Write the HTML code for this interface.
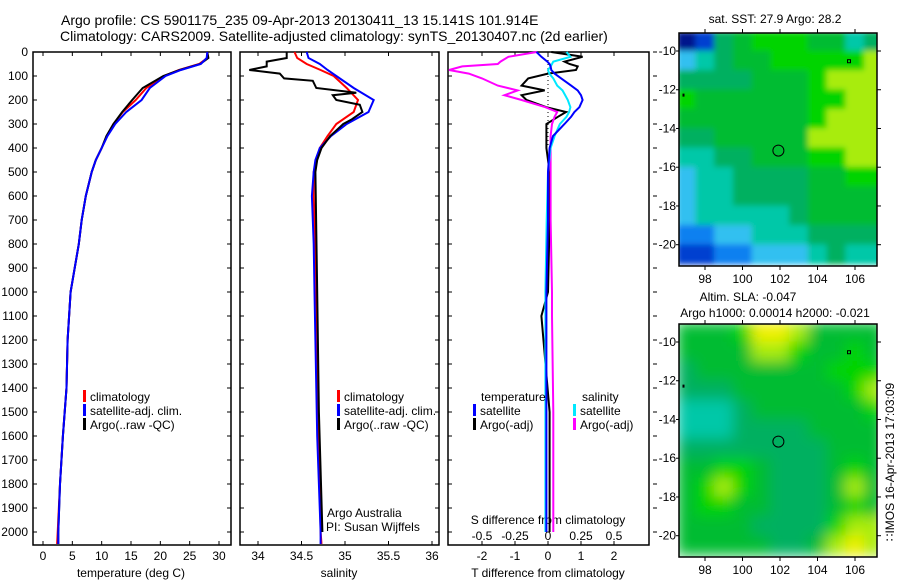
<!DOCTYPE html>
<html><head><meta charset="utf-8"><style>
html,body{margin:0;padding:0;background:#fff;}
svg{display:block;font-family:"Liberation Sans",Arial,sans-serif;}
text{fill:#000;}
</style></head><body>
<svg id="fig" width="900" height="580" viewBox="0 0 900 580" xmlns="http://www.w3.org/2000/svg">
<text x="61" y="25" font-size="14">Argo profile: CS 5901175_235 09-Apr-2013 20130411_13 15.141S 101.914E</text>
<text x="60" y="41" font-size="14">Climatology: CARS2009. Satellite-adjusted climatology: synTS_20130407.nc (2d earlier)</text>
<g id="layer"></g>
</svg>
<script>
// ---------- profile data ----------
const depths   = [0,25,50,75,100,150,200,250,300,350,400,450,500,600,700,800,1000,1200,1400,1600,1800,2000,2050];
const tempClim = [28.0,28.0,26.6,23.2,20.6,17.6,15.8,13.6,12.0,10.9,10.0,9.0,8.3,7.3,6.6,6.1,4.7,4.2,4.0,3.4,2.9,2.5,2.4];
const tempSat  = [28.0,27.9,26.9,23.5,20.9,18.2,16.8,14.2,12.3,11.0,10.0,9.0,8.3,7.3,6.6,6.1,4.7,4.2,4.0,3.4,2.9,2.6,2.6];
const tempArgo = [28.0,28.2,26.8,23.3,20.5,17.0,15.2,13.5,12.0,10.8,10.0,9.0,8.3,7.3,6.6,6.1,4.7,4.2,4.0,3.4,2.9,2.6,2.6];
const salClim  = [34.42,34.45,34.56,34.72,34.87,35.02,35.15,35.10,34.90,34.80,34.71,34.67,34.64,34.64,34.65,34.66,34.67,34.68,34.69,34.70,34.71,34.72,34.73];
const salSat   = [34.56,34.58,34.71,34.80,34.90,35.10,35.33,35.27,35.02,34.84,34.71,34.66,34.64,34.62,34.63,34.64,34.65,34.66,34.67,34.68,34.70,34.72,34.72];
const salDepths= [0,25,40,60,75,90,110,120,150,170,180,200,220,250,280,300,350,400,450,500,1000,1500,2000];
const salArgo  = [34.33,34.33,34.10,34.10,33.90,34.25,34.30,34.63,34.67,35.13,34.86,34.90,35.17,35.20,35.08,34.98,34.83,34.73,34.68,34.66,34.68,34.70,34.74];
const diffDepths = [0,20,40,50,60,75,90,110,140,160,180,200,230,250,270,300,350,400,500,700,1000,1100,1500,2000];
const tDiffSat  = [-0.35,-0.2,-0.02,0.05,0.08,0.1,0.2,0.4,0.7,0.9,1.0,1.05,0.95,0.8,0.7,0.5,0.15,0.05,0.0,0.0,-0.05,-0.05,-0.05,-0.05];
const tDiffArgo = [0.1,1.05,0.5,0.65,0.9,0.85,0.0,-0.6,-0.8,-0.1,-0.8,-0.65,-0.05,0.55,0.3,-0.05,-0.05,-0.05,0.05,0.05,0.0,-0.2,0.05,0.05];
const sDiffSat  = [0.14,0.17,0.04,0.03,0.02,0.0,0.01,0.04,0.07,0.11,0.13,0.15,0.17,0.16,0.14,0.09,0.05,0.02,0.0,-0.01,-0.02,-0.02,-0.02,-0.02];
const sDiffArgo = [-0.085,-0.3,-0.36,-0.38,-0.65,-0.75,-0.6,-0.5,-0.38,-0.23,-0.33,-0.2,-0.02,0.07,0.05,0.03,0.02,0.02,0.02,0.02,0.03,0.03,0.04,0.04];
const depthTicks = [0,100,200,300,400,500,600,700,800,900,1000,1100,1200,1300,1400,1500,1600,1700,1800,1900,2000];
const tempTicks = [0,5,10,15,20,25,30];
const salTicks = [34,34.5,35,35.5,36];
const tdTicks = [-2,-1,0,1,2];
const sdTicks = [-0.5,-0.25,0,0.25,0.5];
// ---------- map data (levels 0..10), rows lat -9.5..-20.5, cols lon 97..107 ----------
const mapLons = [97,98,99,100,101,102,103,104,105,106,107];
const mapLats = [-9.5,-10.5,-11.5,-12.5,-13.5,-14.5,-15.5,-16.5,-17.5,-18.5,-19.5,-20.5];
const sstGrid = [
[0,1,5,6,7,7,7,6,6,4,5],[3,4,5,6,6,7,7,7,7,7,8],[5,5,5,5,6,6,6,7,8,8,8],[7,6,6,6,6,6,6,7,7,8,8],
[6,6,6,6,6,6,6,7,8,8,8],[5,5,6,6,6,6,6,8,8,8,8],[4,4,5,5,6,6,6,7,7,8,8],[3,4,4,5,5,5,5,6,6,7,7],
[3,4,4,5,5,5,5,6,6,6,6],[3,4,4,4,4,4,5,6,6,6,6],[2,2,3,3,4,4,4,5,5,5,5],[1,1,2,2,3,3,3,4,5,4,4]];
const slaGrid = [
[6,6,6,7,9,9,8,6,6,6,6],[6,6,6,6,8,8,7,6,6,7,6],[5,6,6,6,6,6,6,6,7,7,7],[5,5,5,6,6,6,6,6,6,7,8],
[4,4,4,5,6,6,6,6,6,6,7],[4,4,4,5,5,5,5,6,6,6,6],[5,5,5,5,5,5,5,5,6,6,6],[6,6,7,7,6,5,5,5,6,7,6],
[6,7,8,7,6,5,5,5,6,8,6],[6,7,7,6,6,5,5,5,6,7,6],[6,6,6,6,5,5,5,5,7,8,8],[6,6,6,6,6,5,5,6,8,9,8]];
const mapLonTicks = [98,100,102,104,106];
const mapLatTicks = [-10,-12,-14,-16,-18,-20];
const argoPos = [101.914,-15.141];

const NS="http://www.w3.org/2000/svg";
const L=document.getElementById('layer');
function mk(tag,attrs,parent){const e=document.createElementNS(NS,tag);for(const k in attrs)e.setAttribute(k,attrs[k]);(parent||L).appendChild(e);return e;}
function txt(x,y,s,size,anchor,parent){const t=mk('text',{x:x,y:y,'font-size':size||12,'text-anchor':anchor||'start'},parent);t.textContent=s;return t;}

const Y0=52, YS=0.24;
const yD=d=>Y0+d*YS;
const BOT=545;
const panels=[
 {x0:33,x1:231,fx:v=>43+v*5.867,ticks:tempTicks,name:'temperature'},
 {x0:240,x1:439,fx:v=>258+(v-34)*87,ticks:salTicks,name:'salinity'},
 {x0:448,x1:649,fx:v=>548+v*33,ticks:tdTicks,name:'difference'}];
panels.forEach((p,i)=>{
 const b=mk('rect',{x:p.x0,y:Y0,width:p.x1-p.x0,height:BOT-Y0,fill:'none',stroke:'#000','stroke-width':1.5});
 
 
 depthTicks.forEach(d=>{const y=yD(d);
  mk('line',{x1:p.x0,x2:p.x0+4,y1:y,y2:y,stroke:'#000'});
  if(i<2) mk('line',{x1:p.x1,x2:p.x1-4,y1:y,y2:y,stroke:'#000'});
  else mk('line',{x1:p.x1+4,x2:p.x1+8,y1:y,y2:y,stroke:'#000'});
 });
 p.ticks.forEach(v=>{const x=p.fx(v);
  mk('line',{x1:x,x2:x,y1:BOT,y2:BOT-4,stroke:'#000'});
  mk('line',{x1:x,x2:x,y1:Y0,y2:Y0+4,stroke:'#000'});
  const t=txt(x,560,String(v),12,'middle');
  
  
 });
});
depthTicks.forEach(d=>{const t=txt(28,yD(d)+4,String(d),12,'end');
 
 });
[[131,'temperature (deg C)'],[339,'salinity'],[548,'T difference from climatology']].forEach(a=>{
 const t=txt(a[0],577,a[1],12,'middle');
 
 });
const sfx=v=>548+v*132;
sdTicks.forEach(v=>{const t=txt(sfx(v),540,String(v),12,'middle');
 
 });
const sdt=txt(548,524,'S difference from climatology',12,'middle');


const zl=mk('line',{x1:548,x2:548,y1:Y0,y2:yD(400),stroke:'#000','stroke-dasharray':'1,3'});



function line(ds,vals,fx,color,name){
 const pts=ds.map((d,k)=>fx(vals[k]).toFixed(1)+','+yD(d).toFixed(1)).join(' ');
 const e=mk('polyline',{points:pts,fill:'none',stroke:color,'stroke-width':2,'stroke-linejoin':'miter'});
 
 
}
const P=panels;
line(depths,tempClim,P[0].fx,'#ff0000','temp-climatology-line');
line(depths,tempArgo,P[0].fx,'#000000','temp-argo-line');
line(depths,tempSat,P[0].fx,'#0000ff','temp-satellite-line');
line(depths,salClim,P[1].fx,'#ff0000','sal-climatology-line');
line(depths,salSat,P[1].fx,'#0000ff','sal-satellite-line');
line(salDepths,salArgo,P[1].fx,'#000000','sal-argo-line');
line(diffDepths,tDiffArgo,P[2].fx,'#000000','tdiff-argo-line');
line(diffDepths,sDiffArgo,sfx,'#ff00ff','sdiff-argo-line');
line(diffDepths,sDiffSat,sfx,'#00e8ff','sdiff-satellite-line');
line(diffDepths,tDiffSat,P[2].fx,'#0000ff','tdiff-satellite-line');

function legend(x,y,color,label){
 const g=mk('g',{});
 
 
 mk('rect',{x:x,y:y-11,width:3,height:12,fill:color},g);
 txt(x+7,y,label,12,'start',g);
}
[[83,'#ff0000','climatology'],[83,'#0000ff','satellite-adj. clim.'],[83,'#000000','Argo(..raw -QC)']].forEach((a,k)=>legend(a[0],401+k*14,a[1],a[2]));
[[337,'#ff0000','climatology'],[337,'#0000ff','satellite-adj. clim.'],[337,'#000000','Argo(..raw -QC)']].forEach((a,k)=>legend(a[0],401+k*14,a[1],a[2]));
txt(481,401,'temperature',12);
txt(582,401,'salinity',12);
legend(473,415,'#0000ff','satellite');legend(473,429,'#000000','Argo(-adj)');
legend(573,415,'#00e8ff','satellite');legend(573,429,'#ff00ff','Argo(-adj)');
txt(327,517,'Argo Australia',12);
txt(326,531,'PI: Susan Wijffels',12);

// ---------- maps ----------
const pal=['#00148c','#0040d0','#1080f0','#30c0f0','#00c8a8','#00b060','#00bc30','#00d400','#a8ec10','#f0f000','#ffc000'];
function drawMap(top,grid,name,blur){
 const fx=lon=>705+(lon-98)*18.75, fy=lat=>top+18+(-10-lat)*19.37;
 const x0=679,x1=877,y0=top,y1=top+233;
 const id='clip'+top;
 const cp=mk('clipPath',{id:id});mk('rect',{x:x0,y:y0,width:x1-x0,height:y1-y0},cp);
 const g=mk('g',{'clip-path':'url(#'+id+')'});
 
 
 const inner=mk('g',{filter:'url(#'+blur+')'},g);
 grid.forEach((row,r)=>row.forEach((v,c)=>{
  const cx=fx(mapLons[c]),cy=fy(mapLats[r]);
  const cell=mk('rect',{x:(cx-9.6).toFixed(1),y:(cy-10).toFixed(1),width:19.5,height:20.2,fill:pal[v]},inner);
  
  
 }));
 const fr=mk('rect',{x:x0,y:y0,width:x1-x0,height:y1-y0,fill:'none',stroke:'#000','stroke-width':1.5});
 
 
 mapLonTicks.forEach(l=>{const x=fx(l);
  mk('line',{x1:x,x2:x,y1:y1,y2:y1+4,stroke:'#000'});mk('line',{x1:x,x2:x,y1:y0,y2:y0-4,stroke:'#000'});
  const t=txt(x,y1+17,String(l),12,'middle');
  
  });
 mapLatTicks.forEach(l=>{const y=fy(l);
  mk('line',{x1:x1,x2:x1+4,y1:y,y2:y,stroke:'#000'});mk('line',{x1:x0,x2:x0-3,y1:y,y2:y,stroke:'#000'});
  const t=txt(676,y+4,String(l),12,'end');
  
  });
 const c=mk('circle',{cx:fx(argoPos[0]),cy:fy(argoPos[1]),r:5.5,fill:'none',stroke:'#000','stroke-width':1});
 
 
 mk('rect',{x:fx(105.6),y:fy(-10.45),width:3,height:3,fill:'none',stroke:'#000'});
 mk('rect',{x:fx(96.8),y:fy(-12.2),width:2,height:3,fill:'#000'});
}
const defs=mk('defs',{});
const f=mk('filter',{id:'blurS',x:'-10%',y:'-10%',width:'120%',height:'120%'},defs);
mk('feGaussianBlur',{stdDeviation:7},f);
const f2=mk('filter',{id:'blurT',x:'-10%',y:'-10%',width:'120%',height:'120%'},defs);
mk('feGaussianBlur',{stdDeviation:3},f2);
drawMap(33,sstGrid,'sst-map','blurT');
drawMap(324,slaGrid,'sla-map','blurS');
txt(775,23,'sat. SST: 27.9 Argo: 28.2',12,'middle');
txt(748,301,'Altim. SLA: -0.047',12,'middle');
txt(775,317,'Argo h1000: 0.00014 h2000: -0.021',12,'middle');
const dt=txt(0,0,'\u2237IMOS 16-Apr-2013 17:03:09',12,'middle');
dt.setAttribute('transform','translate(894,462) rotate(-90)');


</script>
</body></html>
